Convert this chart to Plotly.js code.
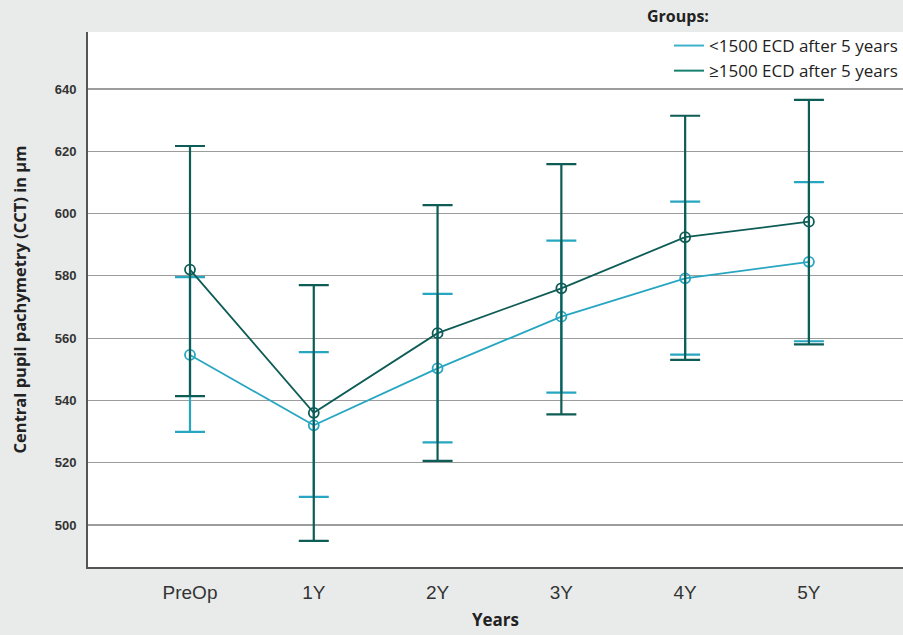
<!DOCTYPE html>
<html>
<head>
<meta charset="utf-8">
<script src="https://cdn.plot.ly/plotly-3.0.1.min.js"></script>
<style>html,body{margin:0;padding:0;background:#e9ebea;}#chart{width:903px;height:635px;}</style>
</head>
<body>
<div id="chart"></div>
<script>
// Categories (time points)
const categories = ["PreOp", "1Y", "2Y", "3Y", "4Y", "5Y"];

// <1500 ECD after 5 years: mean and CI bounds
const lowMean  = [554.6, 532.0, 550.3, 566.9, 579.2, 584.5];
const lowUpper = [579.6, 555.5, 574.2, 591.3, 603.8, 610.1];
const lowLower = [529.9, 509.0, 526.5, 542.5, 554.7, 559.0];

// ≥1500 ECD after 5 years: mean and CI bounds
const highMean  = [582.0, 536.0, 561.6, 576.0, 592.4, 597.4];
const highUpper = [621.7, 577.0, 602.7, 615.9, 631.4, 636.5];
const highLower = [541.4, 494.9, 520.6, 535.5, 553.0, 558.0];

const yTicks = [500, 520, 540, 560, 580, 600, 620, 640];
const legendNames = ["<1500 ECD after 5 years", "≥1500 ECD after 5 years"];
const legendTitle = "Groups:";

const lightColor = "#27a6c2";
const darkColor  = "#0e5c56";

const diff = (a, b) => a.map((v, i) => v - b[i]);

const traces = [
  {
    x: categories, y: lowMean, type: "scatter", mode: "lines+markers",
    line: {color: lightColor, width: 1.8},
    marker: {symbol: "circle-open", size: 10, color: lightColor, line: {width: 1.8}},
    error_y: {type: "data", symmetric: false, array: diff(lowUpper, lowMean), arrayminus: diff(lowMean, lowLower),
              color: lightColor, thickness: 2.2, width: 15},
    showlegend: false
  },
  {
    x: categories, y: highMean, type: "scatter", mode: "lines+markers",
    line: {color: darkColor, width: 1.8},
    marker: {symbol: "circle-open", size: 10, color: darkColor, line: {width: 1.8}},
    error_y: {type: "data", symmetric: false, array: diff(highUpper, highMean), arrayminus: diff(highMean, highLower),
              color: darkColor, thickness: 2.2, width: 15},
    showlegend: false
  },
  {x: [null], y: [null], type: "scatter", mode: "lines", name: legendNames[0],
   line: {color: "#3fb2cb", width: 2}},
  {x: [null], y: [null], type: "scatter", mode: "lines", name: legendNames[1],
   line: {color: "#17806f", width: 2}}
];

const layout = {
  width: 903, height: 635,
  margin: {l: 88, r: 0, t: 32, b: 68},
  paper_bgcolor: "#e9ebea",
  plot_bgcolor: "#ffffff",
  font: {family: "Liberation Sans, Arial, sans-serif", color: "#333"},
  xaxis: {
    type: "category",
    range: [-0.824, 5.76],
    showgrid: false,
    zeroline: false,
    showline: true, linecolor: "#555", linewidth: 2,
    ticks: "outside", ticklen: 7, tickcolor: "rgba(0,0,0,0)",
    tickfont: {family: "Liberation Sans, Arial, sans-serif", size: 19, color: "#333"},
    title: {text: "Years", font: {family: "Open Sans, sans-serif", size: 17, weight: "bold", color: "#222"}, standoff: 12}
  },
  yaxis: {
    range: [486.5, 658.3],
    tickvals: yTicks,
    ticktext: yTicks.map(String),
    showgrid: true, gridcolor: "#9c9c9c", gridwidth: 1.2,
    zeroline: false,
    showline: true, linecolor: "#555", linewidth: 2,
    ticks: "outside", ticklen: 7, tickcolor: "rgba(0,0,0,0)",
    tickfont: {family: "Liberation Sans, Arial, sans-serif", size: 13, weight: "bold", color: "#333"},
    title: {text: "Central pupil pachymetry (CCT) in µm", font: {family: "Open Sans, sans-serif", size: 16.5, weight: "bold", color: "#222"}, standoff: 24}
  },
  legend: {
    x: 1, xanchor: "right", y: 1.0075, yanchor: "top",
    bgcolor: "rgba(0,0,0,0)",
    font: {family: "Open Sans, sans-serif", size: 17, color: "#222"},
    tracegroupgap: 0
  },
  annotations: [{
    text: legendTitle, xref: "paper", yref: "paper", x: 0.683, y: 1.03,
    xanchor: "left", yanchor: "middle", showarrow: false,
    font: {family: "Open Sans, sans-serif", size: 16, weight: "bold", color: "#222"}
  }]
};

Plotly.newPlot("chart", traces, layout, {displayModeBar: false, staticPlot: true});
</script>
</body>
</html>
